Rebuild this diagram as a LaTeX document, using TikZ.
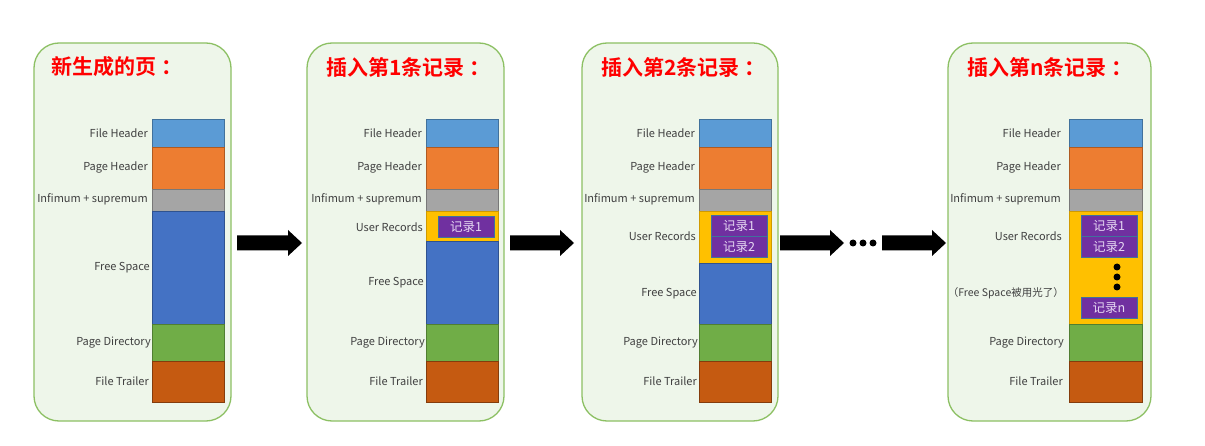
\documentclass[tikz,border=0pt]{standalone}
\usepackage{fontspec}
\setmainfont{Noto Sans CJK SC}[BoldFont={Noto Sans CJK SC Bold}]
\usetikzlibrary{positioning}
\definecolor{panelfill}{HTML}{EEF6EA}
\definecolor{paneldraw}{HTML}{8CC063}
\definecolor{cFH}{HTML}{5B9BD5}\definecolor{dFH}{HTML}{41719C}
\definecolor{cPH}{HTML}{ED7D31}\definecolor{dPH}{HTML}{AE5A21}
\definecolor{cIN}{HTML}{A5A5A5}\definecolor{dIN}{HTML}{787878}
\definecolor{cFS}{HTML}{4472C4}\definecolor{dFS}{HTML}{2F528F}
\definecolor{cPD}{HTML}{70AD47}\definecolor{dPD}{HTML}{507E32}
\definecolor{cFT}{HTML}{C55A11}\definecolor{dFT}{HTML}{843C0C}
\definecolor{cUR}{HTML}{FFC000}\definecolor{dUR}{HTML}{D09A00}
\definecolor{cRC}{HTML}{7030A0}\definecolor{dRC}{HTML}{41719C}
\definecolor{recText}{HTML}{E6D9F2}
\definecolor{lblText}{HTML}{404040}
\tikzset{
  panel/.style={draw=paneldraw, fill=panelfill, line width=1.3pt, rounded corners=25pt},
  ttl/.style={anchor=west, text=red, font=\bfseries\fontsize{21}{21}\selectfont, inner sep=0pt},
  blk/.style={anchor=north west, inner sep=0pt, outer sep=0pt, line width=0.8pt},
  lbl/.style={anchor=east, text=lblText, font=\fontsize{11}{11}\selectfont, inner sep=0pt},
  rec/.style={anchor=north west, inner sep=0pt, outer sep=0pt, fill=cRC, draw=dRC, line width=0.8pt,
     minimum width=56pt, minimum height=21pt, text=recText, font=\fontsize{12.5}{12.5}\selectfont},
  dotc/.style={circle, fill=black, inner sep=0pt, minimum size=7pt}
}
\newcommand\blkn[6]{% name, x, ytop, w, h, colorsuffix
  \node[blk, fill=c#6, draw=d#6, minimum width=#4pt, minimum height=#5pt] (#1) at (#2,#3) {};}
\newcommand\barrow[2]{% x1 x2 at y=243
  \fill (#1,235.5) -- (#2-14,235.5) -- (#2-14,230) -- (#2,243) -- (#2-14,256) -- (#2-14,250.5) -- (#1,250.5) -- cycle;}
\newcommand\ttlcolon{\hspace{5pt}：}
\begin{document}
\begin{tikzpicture}[x=1pt,y=-1pt]
\useasboundingbox (0,0) rectangle (1205,446);
\fill[white] (0,0) rectangle (1205,446);
% panels
\draw[panel] (34,43) rectangle (231,421);
\draw[panel] (307,43) rectangle (504,421);
\draw[panel] (582,43) rectangle (778,421);
\draw[panel] (948,43) rectangle (1151,421);
% titles
\node[ttl] (t1) at (51,67) {新生成的页\ttlcolon};
\node[ttl] (t2) at (326,67) {插入第1条记录\ttlcolon};
\node[ttl] (t3) at (601,67) {插入第2条记录\ttlcolon};
\node[ttl] (t4) at (967,67) {插入第n条记录\ttlcolon};
% panel 1
\blkn{a1}{152}{119}{72}{28}{FH}
\blkn{a2}{152}{147}{72}{42}{PH}
\blkn{a3}{152}{189}{72}{22}{IN}
\blkn{a4}{152}{211}{72}{113}{FS}
\blkn{a5}{152}{324}{72}{37}{PD}
\blkn{a6}{152}{361}{72}{41}{FT}
\node[lbl] at (148,133) {File Header};
\node[lbl] at (148,167) {Page Header};
\node[lbl] at (148,199) {Infimum + supremum};
\node[lbl] at (150,268) {Free Space};
\node[lbl] at (151,343) {Page Directory};
\node[lbl] at (149,381) {File Trailer};
% panel 2
\blkn{b1}{426}{119}{72}{28}{FH}
\blkn{b2}{426}{147}{72}{42}{PH}
\blkn{b3}{426}{189}{72}{22}{IN}
\blkn{b4}{426}{211}{72}{30}{UR}
\blkn{b5}{426}{241}{72}{83}{FS}
\blkn{b6}{426}{324}{72}{37}{PD}
\blkn{b7}{426}{361}{72}{41}{FT}
\node[rec] (br1) at (438,216) {记录1};
\node[lbl] at (422,133) {File Header};
\node[lbl] at (422,167) {Page Header};
\node[lbl] at (422,199) {Infimum + supremum};
\node[lbl] at (423,227) {User Records};
\node[lbl] at (424,283) {Free Space};
\node[lbl] at (425,343) {Page Directory};
\node[lbl] at (423,381) {File Trailer};
% panel 3
\blkn{c1}{699}{119}{72}{28}{FH}
\blkn{c2}{699}{147}{72}{42}{PH}
\blkn{c3}{699}{189}{72}{22}{IN}
\blkn{c4}{699}{211}{72}{52}{UR}
\blkn{c5}{699}{263}{72}{61}{FS}
\blkn{c6}{699}{324}{72}{37}{PD}
\blkn{c7}{699}{361}{72}{41}{FT}
\node[rec] (cr1) at (711,215) {记录1};
\node[rec] (cr2) at (711,236) {记录2};
\node[lbl] at (695,133) {File Header};
\node[lbl] at (695,167) {Page Header};
\node[lbl] at (695,199) {Infimum + supremum};
\node[lbl] at (696,236) {User Records};
\node[lbl] at (697,294) {Free Space};
\node[lbl] at (698,343) {Page Directory};
\node[lbl] at (697,381) {File Trailer};
% panel 4
\blkn{d1}{1069}{119}{73}{28}{FH}
\blkn{d2}{1069}{147}{73}{42}{PH}
\blkn{d3}{1069}{189}{73}{22}{IN}
\blkn{d4}{1069}{211}{73}{113}{UR}
\blkn{d6}{1069}{324}{73}{37}{PD}
\blkn{d7}{1069}{361}{73}{41}{FT}
\node[rec] (dr1) at (1081,215) {记录1};
\node[rec] (dr2) at (1081,236) {记录2};
\node[rec] (drn) at (1081,297) {记录n};
\node[dotc] (dd1) at (1117,267) {};
\node[dotc] (dd2) at (1117,277) {};
\node[dotc] (dd3) at (1117,287) {};
\node[lbl] at (1061,133) {File Header};
\node[lbl] at (1061,167) {Page Header};
\node[lbl] at (1061,199) {Infimum + supremum};
\node[lbl] at (1062,236) {User Records};
\node[lbl, font=\fontsize{10.5}{10.5}\selectfont] at (1064,293) {（Free Space被用光了）};
\node[lbl] at (1064,343) {Page Directory};
\node[lbl] at (1063,381) {File Trailer};
% arrows
\barrow{237}{302}
\barrow{510}{574}
\barrow{780}{844}
\barrow{882}{946}
\node[dotc] (e1) at (853,243) {};
\node[dotc] (e2) at (863,243) {};
\node[dotc] (e3) at (873,243) {};
\end{tikzpicture}
\end{document}
